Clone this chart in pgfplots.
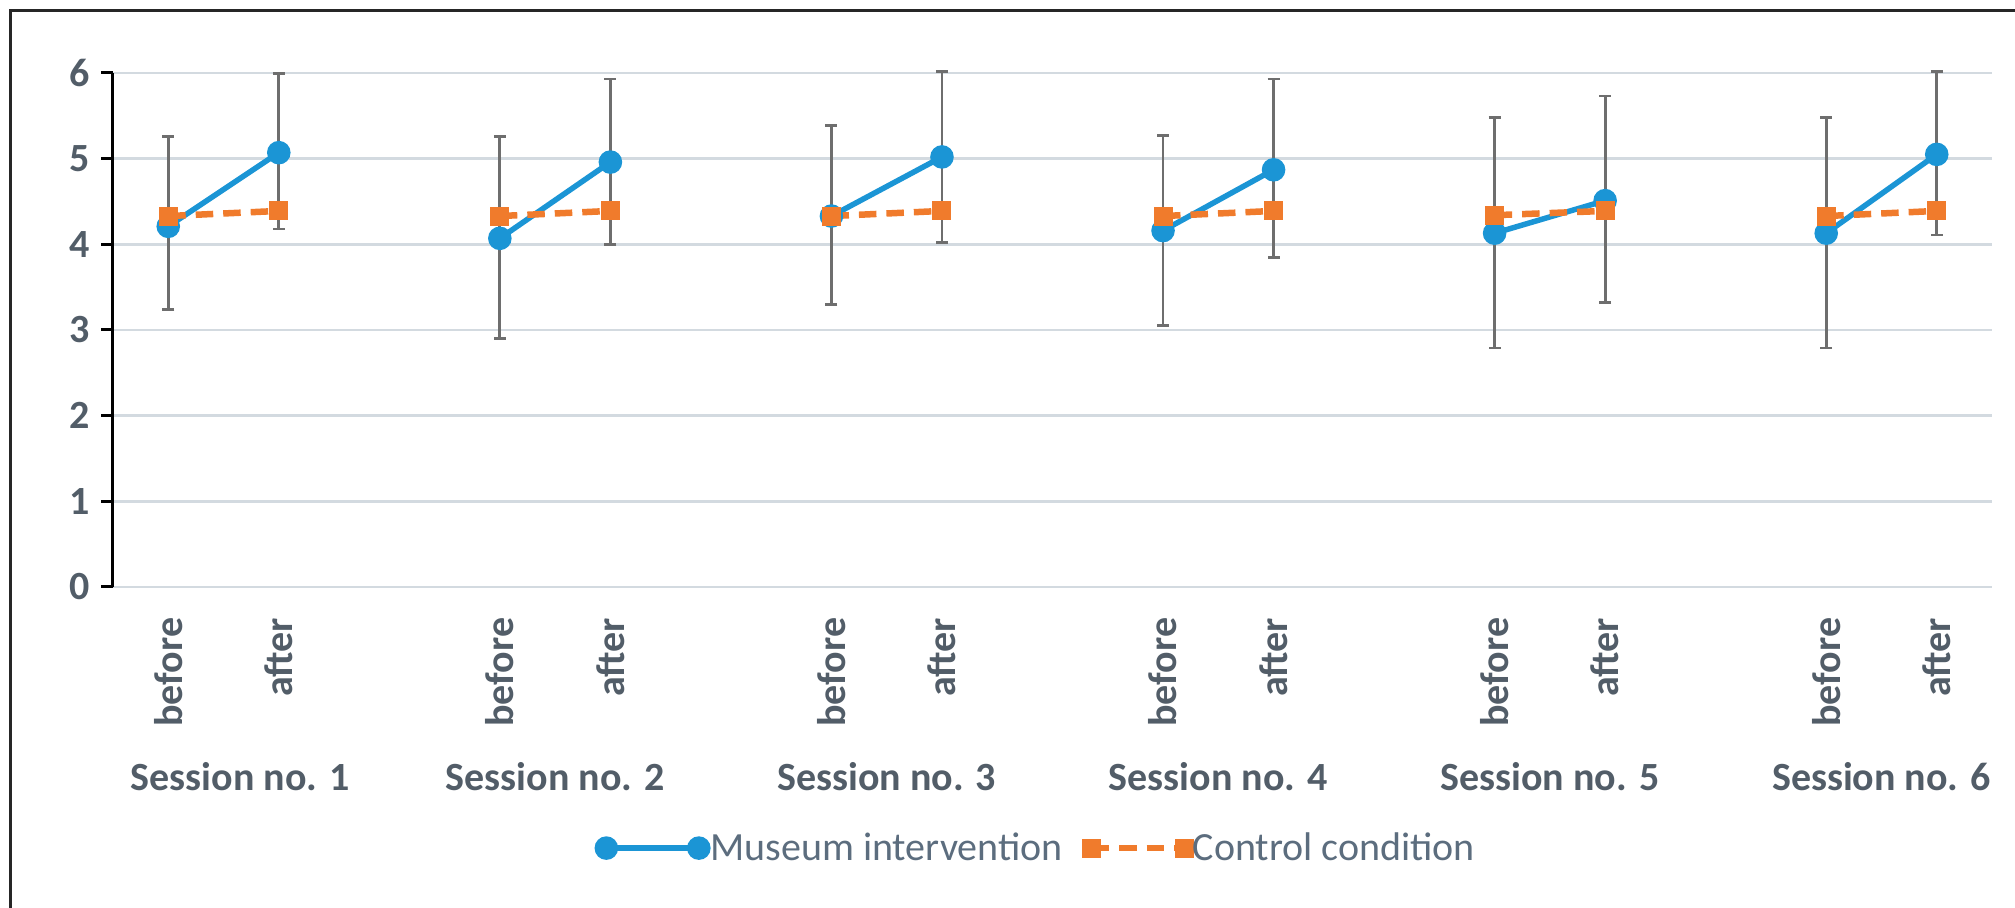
\documentclass[border=0pt]{standalone}
\usepackage{fontspec}
\setmainfont{Carlito}
\usepackage{pgfplots}
\pgfplotsset{compat=1.18}
\definecolor{mblue}{HTML}{1B95D5}
\definecolor{morange}{HTML}{F07B2C}
\definecolor{errgray}{HTML}{6E6E6E}
\definecolor{gridc}{HTML}{D3DAE0}
\definecolor{tickc}{HTML}{525D68}
\definecolor{legc}{HTML}{5C6D7E}
\begin{document}
\begin{tikzpicture}
\path[use as bounding box] (-45.2pt,-128.4pt) rectangle (760.8pt,234.8pt);
\begin{axis}[
  at={(0pt,0pt)}, anchor=south west,
  scale only axis,
  width=751.6pt, height=205.6pt,
  xmin=-0.5, xmax=16.5, ymin=0, ymax=6,
  clip=false,
  axis x line*=bottom, axis y line*=left,
  axis line style={-},
  x axis line style={gridc, line width=1pt},
  y axis line style={black, line width=1.2pt},
  ytick={0,1,2,3,4,5,6},
  ymajorgrids,
  grid style={gridc, line width=1pt},
  tick align=outside,
  major tick length=4.8pt,
  ytick style={black, line width=1.2pt},
  xtick={0,1,3,4,6,7,9,10,12,13,15,16},
  xticklabels={before,after,before,after,before,after,before,after,before,after,before,after},
  xtick style={draw=none},
  xticklabel shift=4pt,
  yticklabel shift=1pt,
  x tick label style={rotate=90, anchor=east, font=\bfseries\fontsize{16}{19}\selectfont, color=tickc},
  y tick label style={font=\bfseries\fontsize{16}{19}\selectfont, color=tickc},
  /pgf/number format/assume math mode=true,
  unbounded coords=jump,
  legend columns=2,
  legend style={draw=none, fill=none, at={(0.492,-0.508)}, anchor=center,
    font=\fontsize{16}{19}\selectfont, text=legc,
    nodes={inner sep=1pt},
    /tikz/every even column/.append style={column sep=8pt}},
  legend image code/.code={\draw[#1] plot coordinates {(0pt,0pt) (37pt,0pt)};},
]
\addplot[mblue, line width=2.2pt, mark=*, mark size=3.6pt,
  error bars/.cd, y dir=both, y explicit,
  error bar style={errgray, line width=1.1pt, solid},
  error mark options={errgray, rotate=90, mark size=2.4pt, line width=1.1pt}]
  table[x=x, y=y, y error plus=ep, y error minus=em] {
x  y    ep    em
0  4.21 1.05  0.97
1  5.07 0.92  0.89
2  nan  0     0
3  4.07 1.19  1.17
4  4.96 0.97  0.96
5  nan  0     0
6  4.33 1.055 1.03
7  5.02 1.00  1.00
8  nan  0     0
9  4.16 1.11  1.11
10 4.87 1.06  1.02
11 nan  0     0
12 4.13 1.35  1.34
13 4.51 1.22  1.19
14 nan  0     0
15 4.13 1.35  1.34
16 5.05 0.97  0.94
};
\addlegendentry{Museum intervention}
\addplot[morange, line width=2.6pt, dash pattern=on 7pt off 4pt, mark=square*, mark size=2.5pt, mark options={solid}]
  table[x=x, y=y] {
x  y
0  4.33
1  4.39
2  nan
3  4.33
4  4.39
5  nan
6  4.33
7  4.39
8  nan
9  4.33
10 4.39
11 nan
12 4.34
13 4.39
14 nan
15 4.33
16 4.39
};
\addlegendentry{Control condition}
\foreach \s/\xc in {1/0.65,2/3.5,3/6.5,4/9.5,5/12.5,6/15.5}{
  \edef\tmp{\noexpand\node[font=\noexpand\bfseries\noexpand\fontsize{16}{19}\noexpand\selectfont, text=tickc] at (axis cs:\xc,0) [yshift=-76pt] {Session no. \s};}
  \tmp
}
\end{axis}
\draw[line width=1.2pt, black!85] (-40.8pt,-130pt) -- (-40.8pt,230.4pt) -- (765pt,230.4pt);
\end{tikzpicture}
\end{document}
